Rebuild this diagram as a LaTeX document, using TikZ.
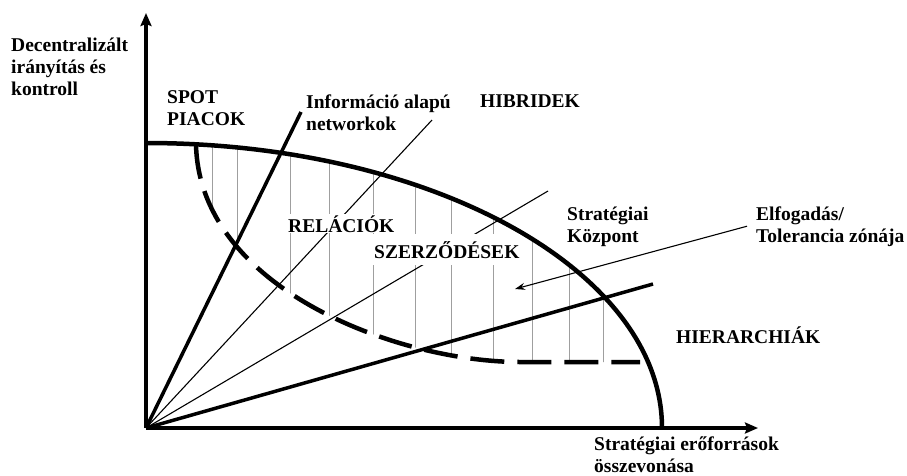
\documentclass[tikz,border=0pt]{standalone}
\usepackage{fontspec}
\setmainfont{Liberation Serif}
\usetikzlibrary{arrows.meta, positioning}

\tikzset{
  lbl/.style={font=\fontsize{19.5}{22}\selectfont\bfseries, align=left, anchor=base west, inner sep=1pt},
  cover/.style={lbl, fill=white},
  axisline/.style={line width=3.5pt, -{Stealth[length=13pt, width=11pt, inset=2pt]}},
  thickray/.style={line width=3.5pt},
  thinray/.style={line width=1.1pt},
  hatch/.style={gray!75, line width=0.9pt},
  zone/.style={line width=4.5pt, dash pattern=on 34pt off 13pt},
}

\begin{document}
\begin{tikzpicture}[x=1pt, y=-1pt]
  \useasboundingbox (0,0) rectangle (907,475);

  \coordinate (O) at (146,428);
  \coordinate (ytip) at (146,13);
  \coordinate (xtip) at (758,428);
  \coordinate (r1) at (301,112);
  \coordinate (r2) at (432,120);
  \coordinate (r3) at (548,191);
  \coordinate (r4) at (653,284);
  \coordinate (tip) at (515,289);

  % hatching between frontier and dashed curve
  \begin{scope}
    \clip (146,143) arc[start angle=-90, end angle=0, x radius=516, y radius=285]
      -- (662,362) -- (520,362) .. controls (400,362) and (200,290) .. (196,145) -- cycle;
    \foreach \hx in {212,237,290,329,373,415,451,493,532,569,603}
      \draw[hatch] (\hx,100) -- (\hx,430);
  \end{scope}

  % rays from the origin
  \draw[thickray] (O) -- (r1);
  \draw[thinray] (O) -- (r2);
  \draw[thinray] (O) -- (r3);
  \draw[thickray] (O) -- (r4);

  % frontier
  \draw[line width=4.5pt] (146,143) arc[start angle=-90, end angle=0, x radius=516, y radius=285];

  % zone of tolerance
  \draw[zone] (196,145) .. controls (200,290) and (400,362) .. (520,362) -- (640,362);

  % axes
  \draw[axisline] (O) -- (ytip);
  \draw[axisline] (O) -- (xtip);

  % labels (base = last line)
  \node[lbl] (yl) at (10,95) {Decentralizált\\irányítás és\\kontroll};
  \node[lbl] (spot) at (166,125) {SPOT\\PIACOK};
  \node[lbl] (info) at (305,130) {Információ alapú\\networkok};
  \node[lbl] (hib) at (479,107) {HIBRIDEK};
  \node[cover] (rel) at (287,232) {RELÁCIÓK};
  \node[cover, inner ysep=7pt] (szer) at (373,258) {SZERZŐDÉSEK};
  \node[lbl] (kp) at (566,242) {Stratégiai\\Központ};
  \node[lbl] (tol) at (755,242) {Elfogadás/\\Tolerancia zónája};
  \node[lbl] (hier) at (675,343) {HIERARCHIÁK};
  \node[lbl] (xl) at (593,472) {Stratégiai erőforrások\\összevonása};

  \draw[thinray, -{Stealth[length=10pt, width=7pt]}] ([xshift=-8pt]tol.west) -- (tip);
\end{tikzpicture}
\end{document}
